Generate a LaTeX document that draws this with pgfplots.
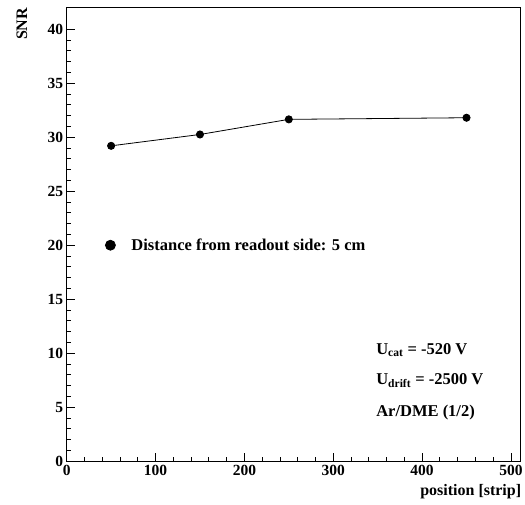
\documentclass[border=0pt]{standalone}
\usepackage{fontspec}
\setmainfont{Liberation Serif}
\usepackage{pgfplots}
\pgfplotsset{compat=1.18}
\begin{document}
\begin{tikzpicture}
\begin{axis}[name=ax,
  scale only axis, width=454pt, height=454.3pt,
  xmin=0, xmax=511, ymin=0, ymax=42.05,
  xtick={0,100,...,500}, ytick={0,5,...,40},
  minor tick num=4,
  tick align=inside, xtick pos=bottom, ytick pos=left,
  major tick length=8pt, minor tick length=4.5pt,
  axis line style={line width=0.9pt},
  every tick/.style={line width=0.8pt, black},
  every minor tick/.style={line width=0.8pt, black},
  /pgf/number format/assume math mode=true,
  ticklabel style={font=\bfseries\fontsize{15.5}{17}\selectfont},
  xlabel={position [strip]},
  xlabel style={at={(rel axis cs:1,0)}, anchor=east, yshift=-30pt, xshift=4pt, font=\bfseries\fontsize{16}{18}\selectfont},
  ylabel={SNR},
  ylabel style={at={(rel axis cs:-0.0985,0.9626)}, anchor=center, font=\bfseries\fontsize{16}{18}\selectfont},
  legend style={at={(axis cs:41.1,20)}, anchor=west, draw=none, fill=none, font=\bfseries\fontsize{16.5}{18}\selectfont, inner sep=0pt},
  legend image code/.code={\fill[black] (7pt,0) circle (5pt); \path[draw=none, fill=none] (0,0) -- (26pt,0);},
]
\addplot[black, line width=0.8pt, mark=*, mark size=3.6pt] coordinates {(50,29.2) (150,30.25) (250,31.65) (450,31.8)};
\addlegendentry{Distance from readout side: 5 cm}
\node[anchor=base west, font=\bfseries\fontsize{16.5}{18}\selectfont] at (axis cs:344.5,9.9) {U\textsubscript{cat} = -520 V};
\node[anchor=base west, font=\bfseries\fontsize{16.5}{18}\selectfont] at (axis cs:344.5,7.1) {U\textsubscript{drift} = -2500 V};
\node[anchor=base west, font=\bfseries\fontsize{16.5}{18}\selectfont] at (axis cs:344.5,4.15) {Ar/DME (1/2)};
\end{axis}
\pgfresetboundingbox
\path ([shift={(-66.7pt,-42.7pt)}]ax.south west) rectangle ([shift={(4.3pt,7pt)}]ax.north east);
\end{tikzpicture}
\end{document}
